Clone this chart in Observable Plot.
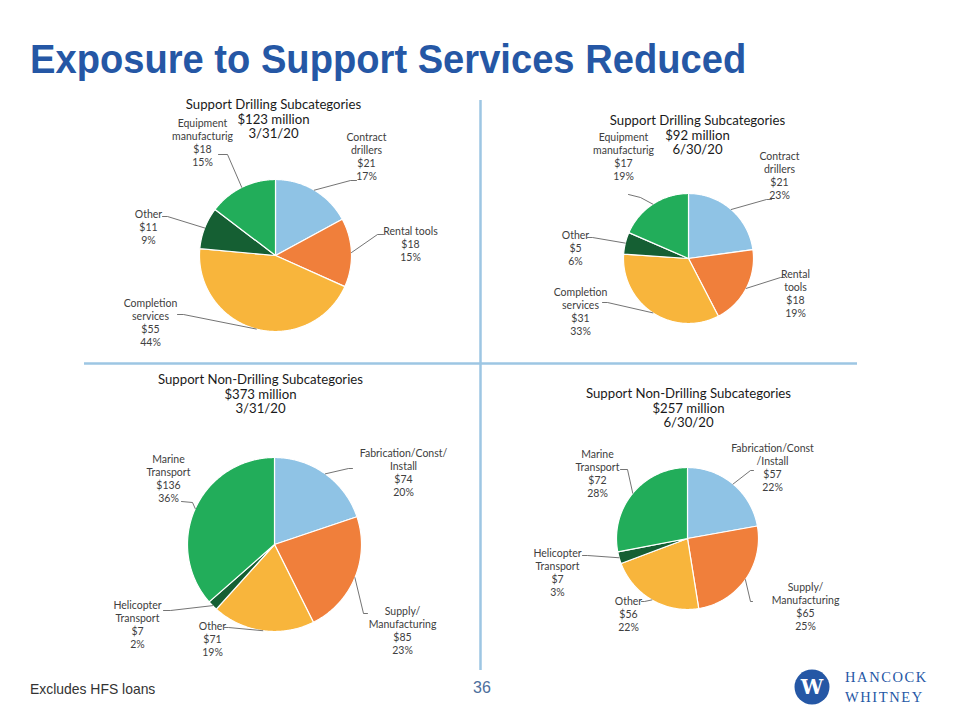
<!DOCTYPE html>
<html>
<head>
<meta charset="utf-8">
<script src="https://cdn.jsdelivr.net/npm/d3@7"></script>
<script src="https://cdn.jsdelivr.net/npm/@observablehq/plot@0.6"></script>
<style>
  html, body { margin: 0; padding: 0; background: #fff; }
  #page { position: relative; width: 960px; height: 720px; overflow: hidden; background: #fff; }
  #title { position: absolute; left: 30px; top: 39px; font-family: "Liberation Sans", Arial, sans-serif; font-weight: bold; font-size: 41px; line-height: 1; color: #2557A5; white-space: nowrap; transform: scaleX(0.93); transform-origin: 0 0; }
  #chart { position: absolute; left: 0; top: 0; }
  #foot { position: absolute; left: 30px; top: 681px; font-family: "Liberation Sans", Arial, sans-serif; font-size: 14.5px; color: #333; transform: scaleX(0.96); transform-origin: 0 0; }
  #pageno { position: absolute; left: 470px; top: 679px; width: 24px; text-align: center; font-family: "Liberation Sans", Arial, sans-serif; font-size: 16px; color: #4d6f9c; }
  #logo { position: absolute; left: 790px; top: 665px; }
</style>
</head>
<body>
<div id="page">
  <div id="title">Exposure to Support Services Reduced</div>
  <div id="chart"></div>
  <div id="foot">Excludes HFS loans</div>
  <div id="pageno">36</div>
  <svg id="logo" width="150" height="45" viewBox="0 0 150 45">
    <circle cx="22" cy="22" r="17.5" fill="#2557A5"/>
    <text x="22" y="29" text-anchor="middle" font-family="DejaVu Serif, serif" font-weight="bold" font-size="20" fill="#fff">W</text>
    <text x="55" y="17" font-family="Liberation Serif, DejaVu Serif, serif" font-size="14.5" letter-spacing="1.6" fill="#2557A5">HANCOCK</text>
    <text x="55" y="37" font-family="Liberation Serif, DejaVu Serif, serif" font-size="14.5" letter-spacing="1.6" fill="#2557A5">WHITNEY</text>
  </svg>
</div>
<script>
// ---------- DATA ----------
const drillCategories = ["Contract\ndrillers", "Rental tools", "Completion\nservices", "Other", "Equipment\nmanufacturig"];
const drillCategoriesQ2 = ["Contract\ndrillers", "Rental\ntools", "Completion\nservices", "Other", "Equipment\nmanufacturig"];
const drillValuesQ1 = [21, 18, 55, 11, 18];
const drillPctQ1 = [17, 15, 44, 9, 15];
const drillValuesQ2 = [21, 18, 31, 5, 17];
const drillPctQ2 = [23, 19, 33, 6, 19];

const nonDrillCategoriesQ1 = ["Fabrication/Const/\nInstall", "Supply/\nManufacturing", "Other", "Helicopter\nTransport", "Marine\nTransport"];
const nonDrillCategoriesQ2 = ["Fabrication/Const\n/Install", "Supply/\nManufacturing", "Other", "Helicopter\nTransport", "Marine\nTransport"];
const nonDrillValuesQ1 = [74, 85, 71, 7, 136];
const nonDrillPctQ1 = [20, 23, 19, 2, 36];
const nonDrillValuesQ2 = [57, 65, 56, 7, 72];
const nonDrillPctQ2 = [22, 25, 22, 3, 28];

const pieTitles = [
  "Support Drilling Subcategories\n$123 million\n3/31/20",
  "Support Drilling Subcategories\n$92 million\n6/30/20",
  "Support Non-Drilling Subcategories\n$373 million\n3/31/20",
  "Support Non-Drilling Subcategories\n$257 million\n6/30/20"
];

const sliceColors = ["#8FC3E5", "#F07F3B", "#F8B53C", "#155F33", "#22AD5A"];

// ---------- LAYOUT (positions only) ----------
const pieLayout = [
  {cx: 275, cy: 255, r: 76, tx: 273, ty: 105},
  {cx: 688, cy: 258, r: 65, tx: 697, ty: 121},
  {cx: 274, cy: 544, r: 87, tx: 260, ty: 380},
  {cx: 687, cy: 538, r: 71, tx: 688, ty: 394}
];
// per label: text centre x, first-line centre y, leader elbow, leader end
const labelLayout = [
  [
    {tx: 366, ty: 138, ex: 350, ey: 180, lx: 356, ly: 180},
    {tx: 410, ty: 232, ex: 377, ey: 234, lx: 383, ly: 234},
    {tx: 150, ty: 304, ex: 183, ey: 314, lx: 177, ly: 314},
    {tx: 148, ty: 215, ex: 167, ey: 216, lx: 162, ly: 216},
    {tx: 202, ty: 124, ex: 227, ey: 154, lx: 218, ly: 154}
  ],
  [
    {tx: 779, ty: 157, ex: 766, ey: 199, lx: 771, ly: 199},
    {tx: 795, ty: 275, ex: 780, ey: 277, lx: 784, ly: 277},
    {tx: 580, ty: 293, ex: 607, ey: 302, lx: 602, ly: 302},
    {tx: 575, ty: 236, ex: 592, ey: 237, lx: 587, ly: 237},
    {tx: 623, ty: 138, ex: 640, ey: 197, lx: 628, ly: 194}
  ],
  [
    {tx: 403, ty: 454, ex: 348, ey: 468, lx: 352, ly: 468},
    {tx: 402, ty: 612, ex: 363, ey: 613, lx: 367, ly: 613},
    {tx: 212, ty: 627, ex: 228, ey: 627, lx: 224, ly: 627},
    {tx: 137, ty: 606, ex: 170, ey: 610, lx: 163, ly: 610},
    {tx: 168, ty: 460, ex: 192, ey: 502, lx: 181, ly: 501}
  ],
  [
    {tx: 772, ty: 449, ex: 750, ey: 470, lx: 753, ly: 470},
    {tx: 805, ty: 588, ex: 750, ey: 601, lx: 752, ly: 601},
    {tx: 628, ty: 602, ex: 644, ey: 601, lx: 641, ly: 601},
    {tx: 557, ty: 554, ex: 587, ey: 555, lx: 582, ly: 555},
    {tx: 597, ty: 455, ex: 627, ey: 469, lx: 620, ly: 469}
  ]
];

const pies = [
  {names: drillCategories, values: drillValuesQ1, pct: drillPctQ1},
  {names: drillCategoriesQ2, values: drillValuesQ2, pct: drillPctQ2},
  {names: nonDrillCategoriesQ1, values: nonDrillValuesQ1, pct: nonDrillPctQ1},
  {names: nonDrillCategoriesQ2, values: nonDrillValuesQ2, pct: nonDrillPctQ2}
];

// ---------- BUILD TABLES ----------
const slicePts = [], leaderPts = [], labelRows = [], titleRows = [];
const labelFont = 10.5, labelLH = 1.22, titleFont = 13.2, titleLH = 1.13;
pies.forEach((p, pi) => {
  const L = pieLayout[pi];
  const arcs = d3.pie().sort(null).value(d => d)(p.values);
  arcs.forEach((a, si) => {
    const key = `${pi}-${si}`;
    slicePts.push({key, idx: si, x: L.cx, y: L.cy});
    const n = Math.max(2, Math.ceil((a.endAngle - a.startAngle) / 0.01));
    for (let k = 0; k <= n; k++) {
      const t = a.startAngle + (a.endAngle - a.startAngle) * k / n;
      slicePts.push({key, idx: si, x: L.cx + L.r * Math.sin(t), y: L.cy - L.r * Math.cos(t)});
    }
    const m = (a.startAngle + a.endAngle) / 2;
    const lab = labelLayout[pi][si];
    leaderPts.push({key, x: L.cx + L.r * Math.sin(m), y: L.cy - L.r * Math.cos(m)});
    leaderPts.push({key, x: lab.ex, y: lab.ey});
    leaderPts.push({key, x: lab.lx, y: lab.ly});
    labelRows.push({x: lab.tx, y: lab.ty - labelFont * labelLH / 2, text: `${p.names[si]}\n$${p.values[si]}\n${p.pct[si]}%`});
  });
  titleRows.push({x: L.tx, y: L.ty - titleFont * titleLH / 2, text: pieTitles[pi]});
});

const chart = Plot.plot({
  width: 960,
  height: 720,
  margin: 0,
  x: {domain: [0, 960], range: [0, 960], axis: null},
  y: {domain: [0, 720], range: [0, 720], axis: null},
  color: {type: "ordinal", domain: [0, 1, 2, 3, 4], range: sliceColors},
  style: {fontFamily: "Lato, sans-serif", background: "transparent"},
  marks: [
    Plot.ruleY([363], {x1: 84, x2: 857, stroke: "#9DC6E3", strokeWidth: 2.5}),
    Plot.ruleX([480], {y1: 100, y2: 670, stroke: "#9DC6E3", strokeWidth: 2.5}),
    Plot.line(slicePts, {x: "x", y: "y", z: "key", fill: "idx", stroke: "#fff", strokeWidth: 1.2, curve: "linear-closed"}),
    Plot.line(leaderPts, {x: "x", y: "y", z: "key", stroke: "#505050", strokeWidth: 0.8}),
    Plot.text(labelRows, {x: "x", y: "y", text: "text", lineAnchor: "top", lineHeight: labelLH, fontSize: labelFont, fill: "#404040"}),
    Plot.text(titleRows, {x: "x", y: "y", text: "text", lineAnchor: "top", lineHeight: titleLH, fontSize: titleFont, fill: "#1a1a1a"})
  ]
});
document.getElementById("chart").appendChild(chart);
</script>
</body>
</html>
